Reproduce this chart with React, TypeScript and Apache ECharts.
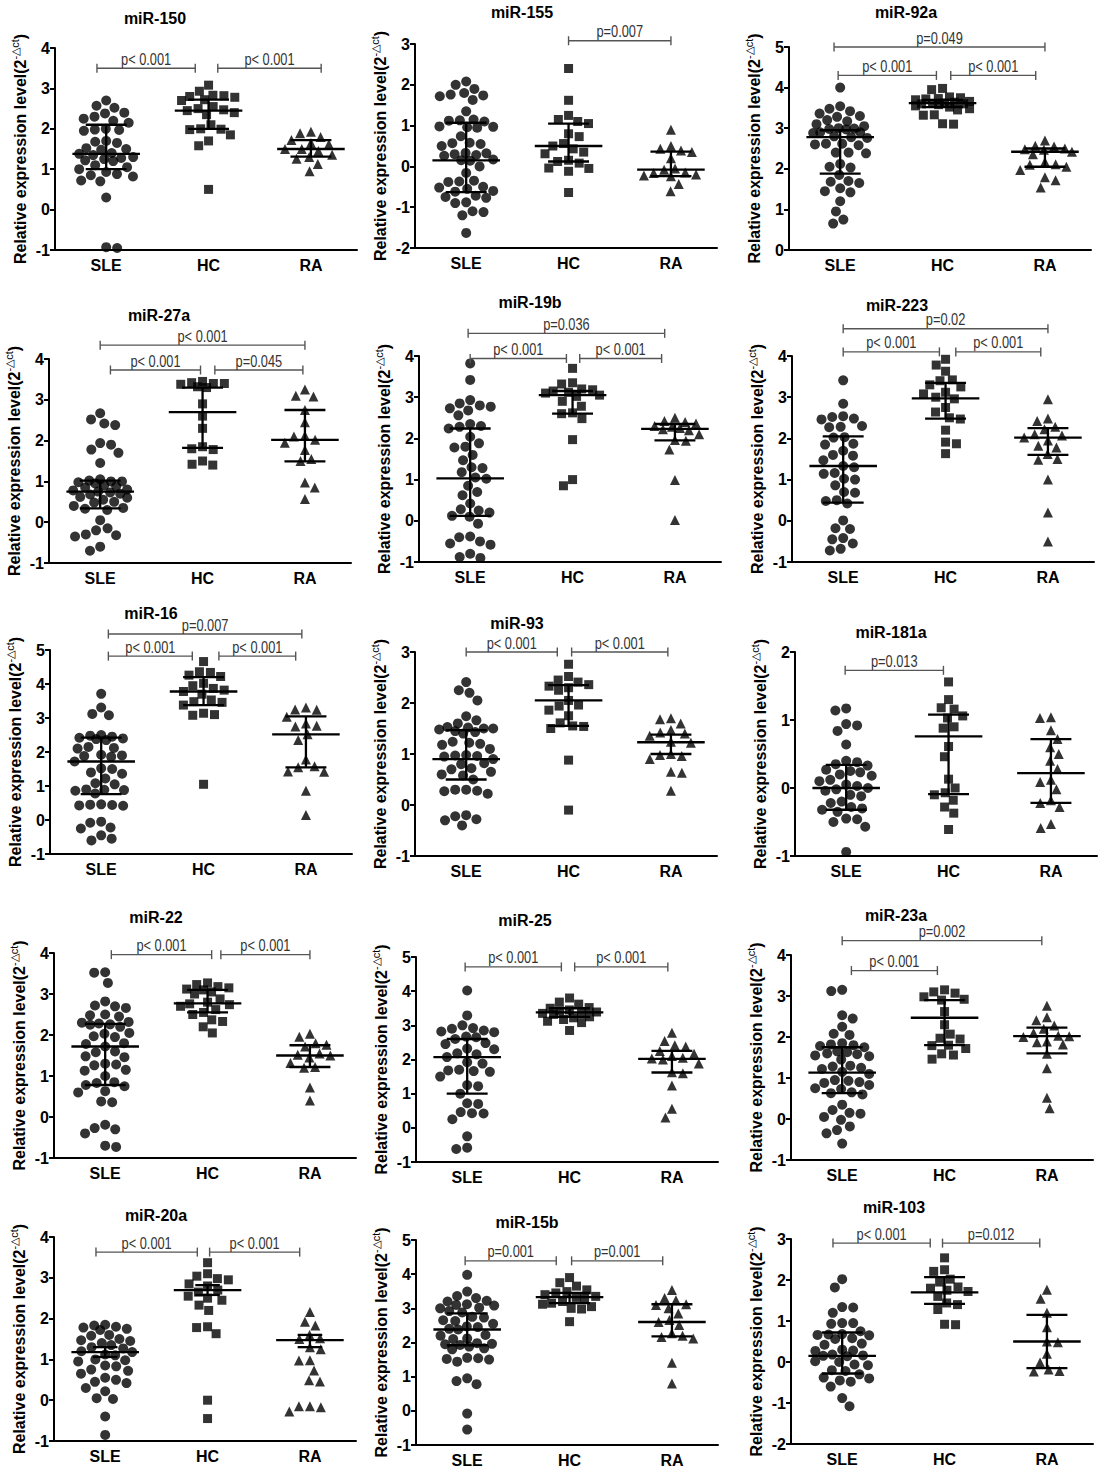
import React, { useEffect, useRef } from "react";
import * as echarts from "echarts";

const groupNames = ["SLE", "HC", "RA"];

// ---------- miR-150 ----------
const miR150_y = [-1, 4];
const miR150_SLE = [2.7, 2.57, 2.52, 2.4, 2.38, 2.3, 2.25, 2.2, 2.15, 2.0, 1.98, 1.97, 1.95, 1.7, 1.68, 1.65, 1.52, 1.5, 1.48, 1.4, 1.38, 1.35, 1.3, 1.28, 1.25, 1.22, 1.2, 1.1, 1.05, 1.0, 0.93, 0.88, 0.85, 0.82, 0.72, 0.7, 0.3, -0.93, -0.95];
const miR150_HC = [3.08, 2.93, 2.83, 2.82, 2.8, 2.78, 2.72, 2.7, 2.55, 2.5, 2.47, 2.45, 2.4, 2.35, 2.1, 2.0, 1.99, 1.98, 1.85, 1.7, 1.58, 0.5];
const miR150_RA = [1.93, 1.89, 1.8, 1.72, 1.65, 1.62, 1.5, 1.5, 1.45, 1.36, 1.3, 1.26, 1.13, 0.95];
const miR150_stats = [[1.38, 1.0, 2.1], [2.45, 2.0, 2.72], [1.5, 1.31, 1.72]];
const miR150_p: [number, number, number, string][] = [[0.91, 1.87, 3.5, "p< 0.001"], [2.09, 3.1, 3.5, "p< 0.001"]];

// ---------- miR-155 ----------
const miR155_y = [-2, 3];
const miR155_SLE = [2.08, 2.0, 1.9, 1.8, 1.76, 1.74, 1.72, 1.63, 1.35, 1.15, 1.13, 1.12, 1.1, 0.98, 0.97, 0.96, 0.95, 0.74, 0.58, 0.57, 0.55, 0.5, 0.33, 0.32, 0.3, 0.28, 0.26, 0.17, 0.15, 0.14, 0.0, -0.16, -0.35, -0.37, -0.38, -0.5, -0.52, -0.55, -0.6, -0.62, -0.72, -0.75, -0.77, -0.88, -0.9, -1.1, -1.12, -1.2, -1.63];
const miR155_HC = [2.4, 1.62, 1.25, 1.15, 1.1, 1.05, 0.8, 0.73, 0.56, 0.5, 0.43, 0.35, 0.31, 0.15, 0.12, 0.08, -0.04, -0.05, -0.12, -0.64];
const miR155_RA = [0.9, 0.5, 0.43, 0.39, 0.35, 0.2, -0.05, -0.08, -0.15, -0.16, -0.2, -0.22, -0.24, -0.43, -0.61];
const miR155_stats = [[0.15, -0.63, 1.07], [0.5, 0.12, 1.05], [-0.08, -0.24, 0.36]];
const miR155_p: [number, number, number, string][] = [[2.0, 3.0, 3.08, "p=0.007"]];

// ---------- miR-92a ----------
const miR92a_y = [0, 5];
const miR92a_SLE = [4.0, 3.54, 3.48, 3.42, 3.36, 3.3, 3.28, 3.2, 3.17, 3.1, 3.05, 3.0, 2.99, 2.98, 2.97, 2.9, 2.9, 2.88, 2.8, 2.78, 2.76, 2.62, 2.62, 2.6, 2.58, 2.4, 2.4, 2.38, 2.12, 2.05, 2.03, 1.85, 1.7, 1.68, 1.65, 1.52, 1.45, 1.42, 1.2, 0.95, 0.75, 0.65];
const miR92a_HC = [3.98, 3.95, 3.77, 3.75, 3.73, 3.72, 3.7, 3.66, 3.64, 3.62, 3.61, 3.6, 3.6, 3.58, 3.55, 3.52, 3.48, 3.45, 3.33, 3.32, 3.11, 3.1];
const miR92a_RA = [2.7, 2.57, 2.55, 2.5, 2.48, 2.47, 2.42, 2.36, 2.17, 2.11, 2.1, 2.05, 1.97, 1.79, 1.72, 1.54];
const miR92a_stats = [[2.78, 1.88, 2.95], [3.62, 3.52, 3.7], [2.42, 2.05, 2.5]];
const miR92a_p: [number, number, number, string][] = [[0.94, 3.0, 5.0, "p=0.049"], [0.98, 1.94, 4.3, "p< 0.001"], [2.08, 2.91, 4.3, "p< 0.001"]];

// ---------- miR-27a ----------
const miR27a_y = [-1, 4];
const miR27a_SLE = [2.67, 2.52, 2.42, 2.38, 1.94, 1.9, 1.78, 1.7, 1.45, 1.05, 1.02, 1.0, 1.0, 0.98, 0.95, 0.9, 0.88, 0.85, 0.8, 0.78, 0.75, 0.73, 0.7, 0.68, 0.62, 0.6, 0.55, 0.5, 0.48, 0.4, 0.35, 0.33, 0.3, 0.05, -0.15, -0.2, -0.3, -0.32, -0.35, -0.6, -0.7];
const miR27a_HC = [3.45, 3.42, 3.4, 3.4, 3.38, 3.32, 3.3, 2.9, 2.6, 2.3, 1.85, 1.8, 1.78, 1.5, 1.42, 1.4];
const miR27a_RA = [3.25, 3.1, 3.08, 2.75, 2.45, 2.12, 2.1, 2.02, 1.95, 1.77, 1.55, 1.5, 0.97, 0.85, 0.57];
const miR27a_stats = [[0.75, 0.34, 1.02], [2.7, 1.82, 3.3], [2.02, 1.49, 2.75]];
const miR27a_p: [number, number, number, string][] = [[1.0, 3.0, 4.34, "p< 0.001"], [1.1, 1.98, 3.73, "p< 0.001"], [2.12, 2.98, 3.73, "p=0.045"]];

// ---------- miR-19b ----------
const miR19b_y = [-1, 4];
const miR19b_SLE = [3.82, 3.42, 2.93, 2.85, 2.8, 2.77, 2.73, 2.68, 2.56, 2.35, 2.3, 2.28, 2.24, 2.04, 1.88, 1.8, 1.78, 1.6, 1.47, 1.3, 1.28, 1.18, 1.05, 1.02, 0.85, 0.7, 0.62, 0.42, 0.28, 0.25, 0.2, 0.12, 0.1, -0.07, -0.38, -0.4, -0.5, -0.55, -0.58, -0.8, -0.88, -0.9];
const miR19b_HC = [3.7, 3.35, 3.32, 3.2, 3.18, 3.15, 3.12, 3.1, 3.05, 3.02, 2.9, 2.78, 2.62, 2.6, 2.48, 1.97, 1.0, 0.85];
const miR19b_RA = [2.5, 2.42, 2.4, 2.36, 2.3, 2.28, 2.25, 2.22, 2.2, 2.1, 1.96, 1.94, 1.73, 0.99, 0.02];
const miR19b_stats = [[1.03, 0.12, 2.24], [3.05, 2.6, 3.15], [2.23, 1.95, 2.35]];
const miR19b_p: [number, number, number, string][] = [[0.98, 2.9, 4.55, "p=0.036"], [1.0, 1.94, 3.94, "p< 0.001"], [2.07, 2.87, 3.94, "p< 0.001"]];

// ---------- miR-223 ----------
const miR223_y = [-1, 4];
const miR223_SLE = [3.41, 2.84, 2.54, 2.52, 2.48, 2.46, 2.3, 2.28, 2.27, 2.03, 2.02, 1.87, 1.85, 1.7, 1.6, 1.58, 1.47, 1.33, 1.3, 1.16, 1.14, 1.02, 1.0, 0.86, 0.7, 0.68, 0.5, 0.48, 0.42, 0.01, -0.18, -0.2, -0.42, -0.45, -0.55, -0.68, -0.72];
const miR223_HC = [3.92, 3.78, 3.63, 3.42, 3.4, 3.3, 3.25, 3.12, 3.08, 3.0, 2.96, 2.75, 2.64, 2.5, 2.47, 2.2, 1.91, 1.87, 1.63];
const miR223_RA = [2.95, 2.48, 2.42, 2.28, 2.22, 2.1, 2.07, 2.02, 1.95, 1.82, 1.78, 1.62, 1.5, 1.48, 1.0, 0.2, -0.5];
const miR223_stats = [[1.33, 0.44, 2.05], [2.97, 2.48, 3.35], [2.02, 1.6, 2.25]];
const miR223_p: [number, number, number, string][] = [[1.0, 3.0, 4.66, "p=0.02"], [1.0, 1.94, 4.1, "p< 0.001"], [2.1, 2.93, 4.1, "p< 0.001"]];

// ---------- miR-16 ----------
const miR16_y = [-1, 5];
const miR16_SLE = [3.71, 3.31, 3.12, 3.08, 2.5, 2.48, 2.45, 2.42, 2.4, 2.38, 2.35, 2.15, 2.12, 2.1, 1.92, 1.9, 1.88, 1.86, 1.72, 1.52, 1.5, 1.4, 1.36, 1.22, 1.08, 1.05, 0.9, 0.89, 0.88, 0.86, 0.78, 0.46, 0.45, 0.44, 0.43, 0.42, -0.05, -0.08, -0.22, -0.25, -0.45, -0.55, -0.6];
const miR16_HC = [4.66, 4.36, 4.34, 4.26, 4.22, 4.02, 3.95, 3.87, 3.82, 3.78, 3.7, 3.53, 3.48, 3.46, 3.38, 3.14, 3.1, 3.08, 1.05];
const miR16_RA = [3.31, 3.25, 3.24, 3.04, 2.84, 2.77, 2.75, 2.52, 2.35, 1.78, 1.58, 1.55, 1.43, 1.42, 0.86, 0.15];
const miR16_stats = [[1.72, 0.76, 2.42], [3.78, 3.38, 4.2], [2.52, 1.55, 3.05]];
const miR16_p: [number, number, number, string][] = [[1.07, 2.96, 5.47, "p=0.007"], [1.07, 1.89, 4.82, "p< 0.001"], [2.15, 2.9, 4.82, "p< 0.001"]];

// ---------- miR-93 ----------
const miR93_y = [-1, 3];
const miR93_SLE = [2.41, 2.25, 2.2, 2.05, 1.74, 1.66, 1.6, 1.53, 1.52, 1.5, 1.5, 1.48, 1.45, 1.43, 1.4, 1.24, 1.22, 1.2, 1.18, 1.1, 0.98, 0.97, 0.96, 0.95, 0.9, 0.82, 0.8, 0.72, 0.7, 0.65, 0.6, 0.58, 0.5, 0.3, 0.3, 0.28, 0.27, 0.22, -0.2, -0.22, -0.28, -0.3, -0.4];
const miR93_HC = [2.76, 2.52, 2.45, 2.41, 2.36, 2.33, 2.3, 2.25, 2.05, 1.96, 1.94, 1.86, 1.75, 1.61, 1.55, 1.54, 1.5, 0.88, -0.1];
const miR93_RA = [1.7, 1.68, 1.6, 1.47, 1.42, 1.4, 1.36, 1.24, 1.22, 1.0, 0.98, 0.96, 0.9, 0.65, 0.63, 0.28];
const miR93_stats = [[0.9, 0.5, 1.47], [2.05, 1.55, 2.35], [1.23, 1.0, 1.38]];
const miR93_p: [number, number, number, string][] = [[1.0, 1.89, 3.0, "p< 0.001"], [2.03, 2.97, 3.0, "p< 0.001"]];

// ---------- miR-181a ----------
const miR181a_y = [-1, 2];
const miR181a_SLE = [1.17, 1.14, 0.94, 0.92, 0.84, 0.64, 0.4, 0.38, 0.35, 0.33, 0.27, 0.25, 0.23, 0.2, 0.18, 0.12, 0.1, 0.05, 0.03, 0.0, -0.02, -0.04, -0.1, -0.12, -0.2, -0.22, -0.28, -0.3, -0.32, -0.35, -0.45, -0.46, -0.5, -0.57, -0.94];
const miR181a_HC = [1.56, 1.3, 1.18, 1.16, 1.06, 1.03, 0.9, 0.88, 0.61, 0.46, 0.13, 0.0, -0.07, -0.1, -0.18, -0.28, -0.37, -0.61];
const miR181a_RA = [1.04, 1.03, 0.85, 0.72, 0.6, 0.5, 0.4, 0.28, 0.12, 0.09, -0.02, -0.18, -0.22, -0.28, -0.53, -0.59];
const miR181a_stats = [[0.0, -0.32, 0.34], [0.76, -0.09, 1.08], [0.22, -0.22, 0.72]];
const miR181a_p: [number, number, number, string][] = [[0.99, 1.95, 1.73, "p=0.013"]];

// ---------- miR-22 ----------
const miR22_y = [-1, 4];
const miR22_SLE = [3.53, 3.52, 3.27, 2.82, 2.72, 2.7, 2.66, 2.5, 2.48, 2.45, 2.32, 2.3, 2.28, 2.26, 2.25, 2.2, 2.05, 2.03, 1.97, 1.95, 1.8, 1.78, 1.72, 1.6, 1.58, 1.48, 1.46, 1.3, 1.28, 1.26, 1.15, 1.13, 1.0, 0.85, 0.83, 0.78, 0.75, 0.63, 0.6, 0.38, 0.36, -0.19, -0.27, -0.3, -0.4, -0.7, -0.73];
const miR22_HC = [3.27, 3.23, 3.18, 3.15, 3.12, 3.1, 3.05, 3.0, 2.88, 2.8, 2.76, 2.74, 2.7, 2.62, 2.55, 2.5, 2.37, 2.33, 2.2, 2.05];
const miR22_RA = [2.03, 1.96, 1.8, 1.76, 1.72, 1.55, 1.52, 1.5, 1.45, 1.32, 1.22, 1.2, 0.72, 0.4];
const miR22_stats = [[1.72, 0.78, 2.27], [2.77, 2.55, 3.1], [1.5, 1.22, 1.75]];
const miR22_p: [number, number, number, string][] = [[1.06, 2.04, 3.96, "p< 0.001"], [2.13, 3.0, 3.96, "p< 0.001"]];

// ---------- miR-25 ----------
const miR25_y = [-1, 5];
const miR25_SLE = [4.02, 3.29, 3.0, 2.92, 2.9, 2.85, 2.82, 2.8, 2.67, 2.65, 2.6, 2.48, 2.45, 2.32, 2.3, 2.18, 2.15, 2.07, 1.92, 1.88, 1.7, 1.68, 1.66, 1.64, 1.5, 1.25, 1.22, 1.0, 0.72, 0.7, 0.46, 0.43, 0.42, 0.25, -0.25, -0.58, -0.62];
const miR25_HC = [3.8, 3.68, 3.62, 3.52, 3.5, 3.45, 3.42, 3.39, 3.38, 3.35, 3.32, 3.25, 3.22, 3.17, 3.12, 3.08, 2.85];
const miR25_RA = [2.78, 2.54, 2.42, 2.38, 2.25, 2.17, 2.1, 2.05, 2.03, 2.0, 1.88, 1.63, 1.6, 1.24, 0.56, 0.3];
const miR25_stats = [[2.07, 1.0, 2.6], [3.38, 3.25, 3.5], [2.02, 1.62, 2.25]];
const miR25_p: [number, number, number, string][] = [[0.98, 1.92, 4.71, "p< 0.001"], [2.05, 2.96, 4.71, "p< 0.001"]];

// ---------- miR-23a ----------
const miR23a_y = [-1, 4];
const miR23a_SLE = [3.15, 3.12, 2.53, 2.45, 2.25, 2.08, 2.05, 1.85, 1.82, 1.8, 1.78, 1.75, 1.65, 1.63, 1.6, 1.58, 1.55, 1.53, 1.45, 1.3, 1.28, 1.25, 1.22, 1.15, 1.1, 0.95, 0.93, 0.9, 0.88, 0.83, 0.75, 0.73, 0.65, 0.63, 0.6, 0.35, 0.22, 0.15, 0.13, 0.05, -0.02, -0.18, -0.27, -0.35, -0.6];
const miR23a_HC = [3.15, 3.1, 3.07, 2.98, 2.92, 2.9, 2.62, 2.3, 2.07, 1.97, 1.95, 1.8, 1.79, 1.72, 1.59, 1.56, 1.46];
const miR23a_RA = [2.76, 2.48, 2.41, 2.28, 2.2, 2.1, 2.03, 2.02, 2.0, 1.89, 1.87, 1.82, 1.59, 1.24, 0.52, 0.26];
const miR23a_stats = [[1.13, 0.63, 1.75], [2.47, 1.8, 2.9], [2.02, 1.6, 2.23]];
const miR23a_p: [number, number, number, string][] = [[1.0, 2.95, 4.35, "p=0.002"], [1.09, 1.93, 3.62, "p< 0.001"]];

// ---------- miR-20a ----------
const miR20a_y = [-1, 4];
const miR20a_SLE = [1.85, 1.83, 1.8, 1.78, 1.75, 1.72, 1.6, 1.58, 1.5, 1.47, 1.45, 1.4, 1.35, 1.3, 1.27, 1.2, 1.18, 1.12, 1.1, 1.0, 0.98, 0.95, 0.85, 0.83, 0.75, 0.72, 0.65, 0.55, 0.5, 0.45, 0.42, 0.3, 0.22, 0.05, 0.03, -0.4, -0.85];
const miR20a_HC = [3.37, 3.1, 3.04, 2.98, 2.95, 2.85, 2.8, 2.7, 2.65, 2.55, 2.5, 2.45, 2.33, 2.2, 1.8, 1.78, 1.63, 0.0, -0.45];
const miR20a_RA = [2.16, 1.92, 1.83, 1.6, 1.52, 1.5, 1.3, 1.25, 0.98, 0.97, 0.73, 0.49, 0.46, -0.15, -0.17, -0.15, -0.28];
const miR20a_stats = [[1.18, 1.06, 1.3], [2.7, 2.58, 2.82], [1.47, 1.3, 1.6]];
const miR20a_p: [number, number, number, string][] = [[0.91, 1.9, 3.63, "p< 0.001"], [2.02, 2.9, 3.63, "p< 0.001"]];

// ---------- miR-15b ----------
const miR15b_y = [-1, 5];
const miR15b_SLE = [3.98, 3.49, 3.36, 3.3, 3.22, 3.2, 3.12, 3.1, 3.08, 3.02, 3.0, 2.92, 2.88, 2.75, 2.73, 2.65, 2.63, 2.55, 2.47, 2.45, 2.4, 2.38, 2.22, 2.2, 2.12, 2.1, 1.98, 1.96, 1.95, 1.93, 1.88, 1.83, 1.8, 1.55, 1.54, 1.52, 1.5, 1.44, 0.95, 0.87, 0.78, -0.08, -0.55];
const miR15b_HC = [3.9, 3.75, 3.65, 3.54, 3.49, 3.45, 3.4, 3.35, 3.32, 3.3, 3.2, 3.15, 3.12, 3.05, 3.0, 2.98, 2.61];
const miR15b_RA = [3.54, 3.3, 3.24, 3.12, 3.1, 3.0, 2.85, 2.66, 2.6, 2.51, 2.27, 2.2, 2.16, 2.12, 1.41, 0.8];
const miR15b_stats = [[2.38, 1.92, 2.85], [3.33, 3.15, 3.45], [2.6, 2.18, 3.12]];
const miR15b_p: [number, number, number, string][] = [[0.98, 1.87, 4.39, "p=0.001"], [2.02, 2.91, 4.39, "p=0.001"]];

// ---------- miR-103 ----------
const miR103_y = [-2, 3];
const miR103_SLE = [2.02, 1.82, 1.34, 1.33, 1.2, 0.95, 0.95, 0.93, 0.75, 0.68, 0.67, 0.66, 0.65, 0.58, 0.56, 0.45, 0.42, 0.3, 0.28, 0.27, 0.18, 0.16, 0.15, 0.14, 0.02, 0.0, -0.06, -0.08, -0.2, -0.22, -0.3, -0.38, -0.4, -0.45, -0.48, -0.6, -0.88, -1.08];
const miR103_HC = [2.54, 2.25, 2.21, 2.02, 1.95, 1.83, 1.8, 1.75, 1.72, 1.6, 1.44, 1.4, 1.28, 0.92, 0.91];
const miR103_RA = [1.76, 1.54, 1.2, 0.85, 0.5, 0.48, 0.2, -0.01, -0.18, -0.22, -0.23];
const miR103_stats = [[0.15, -0.28, 0.72], [1.7, 1.42, 2.07], [0.5, -0.15, 1.15]];
const miR103_p: [number, number, number, string][] = [[0.91, 1.86, 2.9, "p< 0.001"], [1.98, 2.93, 2.9, "p=0.012"]];

const panels = [
  { title: "miR-150", y: miR150_y, g: [miR150_SLE, miR150_HC, miR150_RA], stats: miR150_stats, p: miR150_p },
  { title: "miR-155", y: miR155_y, g: [miR155_SLE, miR155_HC, miR155_RA], stats: miR155_stats, p: miR155_p },
  { title: "miR-92a", y: miR92a_y, g: [miR92a_SLE, miR92a_HC, miR92a_RA], stats: miR92a_stats, p: miR92a_p },
  { title: "miR-27a", y: miR27a_y, g: [miR27a_SLE, miR27a_HC, miR27a_RA], stats: miR27a_stats, p: miR27a_p },
  { title: "miR-19b", y: miR19b_y, g: [miR19b_SLE, miR19b_HC, miR19b_RA], stats: miR19b_stats, p: miR19b_p },
  { title: "miR-223", y: miR223_y, g: [miR223_SLE, miR223_HC, miR223_RA], stats: miR223_stats, p: miR223_p },
  { title: "miR-16", y: miR16_y, g: [miR16_SLE, miR16_HC, miR16_RA], stats: miR16_stats, p: miR16_p },
  { title: "miR-93", y: miR93_y, g: [miR93_SLE, miR93_HC, miR93_RA], stats: miR93_stats, p: miR93_p },
  { title: "miR-181a", y: miR181a_y, g: [miR181a_SLE, miR181a_HC, miR181a_RA], stats: miR181a_stats, p: miR181a_p },
  { title: "miR-22", y: miR22_y, g: [miR22_SLE, miR22_HC, miR22_RA], stats: miR22_stats, p: miR22_p },
  { title: "miR-25", y: miR25_y, g: [miR25_SLE, miR25_HC, miR25_RA], stats: miR25_stats, p: miR25_p },
  { title: "miR-23a", y: miR23a_y, g: [miR23a_SLE, miR23a_HC, miR23a_RA], stats: miR23a_stats, p: miR23a_p },
  { title: "miR-20a", y: miR20a_y, g: [miR20a_SLE, miR20a_HC, miR20a_RA], stats: miR20a_stats, p: miR20a_p },
  { title: "miR-15b", y: miR15b_y, g: [miR15b_SLE, miR15b_HC, miR15b_RA], stats: miR15b_stats, p: miR15b_p },
  { title: "miR-103", y: miR103_y, g: [miR103_SLE, miR103_HC, miR103_RA], stats: miR103_stats, p: miR103_p },
];

// layout per panel: [gridLeft, axisTop, axisBottom, titleX, titleY, capHalfWidth]
const layout = [
  [55, 48, 250, 155, 18, 0.2], [415, 44, 248, 522, 12, 0.2], [789, 47, 250, 906, 12, 0.2],
  [49, 359, 563, 159, 315, 0.2], [419, 356, 562, 530, 302, 0.2], [792, 356, 562, 897, 305, 0.2],
  [50, 650, 854, 151, 613, 0.2], [415, 652, 856, 517, 623, 0.2], [795, 652, 856, 891, 632, 0.2],
  [54, 953, 1158, 156, 917, 0.2], [416, 957, 1162, 525, 920, 0.2], [791, 955, 1160, 896, 915, 0.2],
  [54, 1237, 1441, 156, 1215, 0.12], [416, 1240, 1445, 527, 1222, 0.2], [791, 1239, 1444, 894, 1207, 0.2],
];

const X_MIN = 0.5;
const X_MAX = 3.45;
const GRID_W = 302;
const FONT = 'Arial, "Liberation Sans", Helvetica, sans-serif';
const symbols = ["circle", "rect", "triangle"];
const symbolSizes = [10, 9, 10];

// deterministic capped beeswarm layout (pixel space) -> x offsets in data units
function swarmOffsets(vals: number[], ppy: number, ppx: number, d: number, maxPx: number): number[] {
  const idx = vals.map((_, i) => i).sort((a, b) => vals[b] - vals[a]);
  const placed: { x: number; y: number }[] = [];
  const out: number[] = new Array(vals.length).fill(0);
  let flip = 1;
  for (const i of idx) {
    const y = vals[i] * ppy;
    const near = placed.filter((p) => Math.abs(p.y - y) < d);
    let cands = [0];
    for (const p of near) {
      const dx = Math.sqrt(d * d - (p.y - y) * (p.y - y));
      cands.push(p.x + dx, p.x - dx);
    }
    cands = cands.filter((c) => Math.abs(c) <= maxPx + 0.01);
    cands.sort((a, b) => Math.abs(a) - Math.abs(b) || (a - b) * flip);
    let chosen: number | null = null;
    for (const c of cands) {
      if (near.every((p) => (p.x - c) * (p.x - c) + (p.y - y) * (p.y - y) >= d * d - 0.01)) {
        chosen = c;
        break;
      }
    }
    if (chosen === null) {
      // no free slot inside the band: take the least-crowded position
      let best = 0;
      let bestD = -1;
      for (let c = -maxPx; c <= maxPx + 0.001; c += 1) {
        const md = Math.min(...near.map((p) => Math.hypot(p.x - c, p.y - y)));
        if (md > bestD + 0.01 || (Math.abs(md - bestD) <= 0.01 && Math.abs(c) < Math.abs(best))) {
          bestD = md;
          best = c;
        }
      }
      chosen = best;
    }
    if (chosen !== 0) flip = -flip;
    placed.push({ x: chosen, y });
    out[i] = chosen / ppx;
  }
  return out;
}

function buildOption() {
  const grid: any[] = [];
  const xAxis: any[] = [];
  const yAxis: any[] = [];
  const series: any[] = [];
  const graphic: any[] = [];
  const ppx = GRID_W / (X_MAX - X_MIN);

  panels.forEach((pn, k) => {
    const [left, top, bottom, tx, ty, cap] = layout[k];
    const h = bottom - top;
    const ppy = h / (pn.y[1] - pn.y[0]);
    grid.push({ left, top, width: GRID_W, height: h, containLabel: false });
    xAxis.push({
      type: "value",
      gridIndex: k,
      min: X_MIN,
      max: X_MAX,
      axisLine: { show: true, onZero: false, lineStyle: { color: "#000", width: 2 } },
      axisTick: { show: false },
      splitLine: { show: false },
      axisLabel: {
        customValues: [1, 2, 3],
        formatter: (v: number) => groupNames[Math.round(v) - 1] || "",
        color: "#000",
        fontWeight: "bold",
        fontSize: 16,
        fontFamily: FONT,
        margin: 7,
      },
    });
    yAxis.push({
      type: "value",
      gridIndex: k,
      min: pn.y[0],
      max: pn.y[1],
      interval: 1,
      name: "Relative expression level(2{sup|-△ct})",
      nameLocation: "middle",
      nameRotate: 90,
      nameGap: 24,
      nameTextStyle: {
        fontSize: 16,
        fontWeight: "bold",
        color: "#000",
        fontFamily: FONT,
        lineHeight: 22,
        rich: {
          sup: { fontSize: 11, fontWeight: "normal", color: "#000", fontFamily: FONT, verticalAlign: "top", lineHeight: 11 },
        },
      },
      axisLine: { show: true, onZero: false, lineStyle: { color: "#000", width: 2 } },
      axisTick: { show: true, length: 5, lineStyle: { color: "#000", width: 2 } },
      splitLine: { show: false },
      axisLabel: { color: "#000", fontWeight: "bold", fontSize: 16, fontFamily: FONT, margin: 5 },
    });

    pn.g.forEach((vals, gi) => {
      const off = swarmOffsets(vals, ppy, ppx, 11, 27);
      series.push({
        type: "scatter",
        xAxisIndex: k,
        yAxisIndex: k,
        symbol: symbols[gi],
        symbolSize: symbolSizes[gi],
        itemStyle: { color: "#000" },
        data: vals.map((v, i) => [gi + 1 + off[i], v]),
        z: 2,
        silent: true,
      });
    });

    series.push({
      type: "custom",
      xAxisIndex: k,
      yAxisIndex: k,
      z: 4,
      silent: true,
      data: pn.stats.map((s, i) => [i + 1, s[0], s[1], s[2]]),
      renderItem: (params: any, api: any) => {
        const x = api.value(0);
        const m = api.value(1);
        const q1 = api.value(2);
        const q3 = api.value(3);
        const st = { stroke: "#000", lineWidth: 2.3 };
        const seg = (ax: number, ay: number, bx: number, by: number) => {
          const a = api.coord([ax, ay]);
          const b = api.coord([bx, by]);
          return { type: "line", shape: { x1: a[0], y1: a[1], x2: b[0], y2: b[1] }, style: st };
        };
        return {
          type: "group",
          children: [
            seg(x - 0.33, m, x + 0.33, m),
            seg(x - cap, q1, x + cap, q1),
            seg(x - cap, q3, x + cap, q3),
            seg(x, q1, x, q3),
          ],
        };
      },
    });

    const br = pn.p;
    series.push({
      type: "custom",
      xAxisIndex: k,
      yAxisIndex: k,
      z: 5,
      silent: true,
      clip: false,
      encode: { x: [0, 1], y: 2 },
      data: br.map((b) => [b[0], b[1], b[2]]),
      renderItem: (params: any, api: any) => {
        const a = api.coord([api.value(0), api.value(2)]);
        const b = api.coord([api.value(1), api.value(2)]);
        const label = br[params.dataIndex][3];
        const st = { stroke: "#555", lineWidth: 1.4 };
        return {
          type: "group",
          children: [
            { type: "line", shape: { x1: a[0], y1: a[1], x2: b[0], y2: b[1] }, style: st },
            { type: "line", shape: { x1: a[0], y1: a[1] - 4.5, x2: a[0], y2: a[1] + 4.5 }, style: st },
            { type: "line", shape: { x1: b[0], y1: b[1] - 4.5, x2: b[0], y2: b[1] + 4.5 }, style: st },
            {
              type: "text",
              x: (a[0] + b[0]) / 2,
              y: a[1] - 1,
              scaleX: 0.8,
              style: {
                text: label,
                fill: "#333",
                font: 'normal 16px Arial, "Liberation Sans", sans-serif',
                align: "center",
                verticalAlign: "bottom",
              },
            },
          ],
        };
      },
    });

    graphic.push({
      type: "text",
      x: tx,
      y: ty,
      silent: true,
      style: {
        text: pn.title,
        fill: "#000",
        font: 'bold 16px Arial, "Liberation Sans", sans-serif',
        align: "center",
        verticalAlign: "middle",
      },
    });
  });

  return {
    animation: false,
    backgroundColor: "#fff",
    textStyle: { fontFamily: FONT },
    grid,
    xAxis,
    yAxis,
    series,
    graphic,
  };
}

export default function App() {
  const ref = useRef<HTMLDivElement>(null);
  useEffect(() => {
    if (!ref.current) return;
    const chart = echarts.init(ref.current, null, { renderer: "svg" });
    chart.setOption(buildOption() as any);
    return () => chart.dispose();
  }, []);
  return (
    <div
      ref={ref}
      style={{ position: "absolute", left: 0, top: 0, width: 1106, height: 1470, background: "#fff" }}
    />
  );
}
